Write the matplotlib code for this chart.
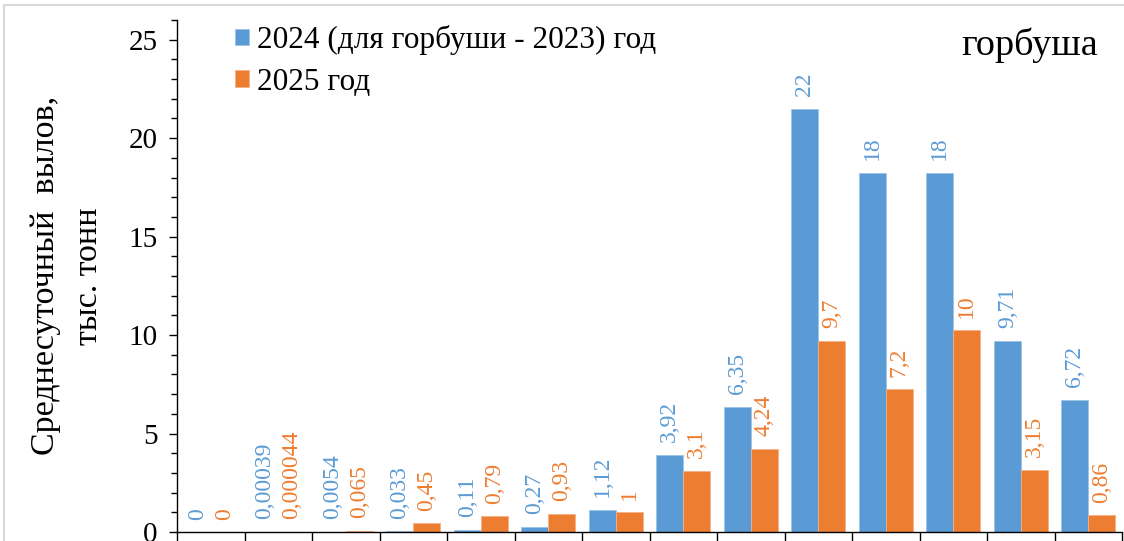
import matplotlib
matplotlib.use("Agg")
import matplotlib.pyplot as plt
import numpy as np
from matplotlib.patches import Rectangle
from matplotlib.ticker import MultipleLocator

plt.rcParams['font.family'] = ['Liberation Serif', 'DejaVu Serif']

# data (14 periods, no category labels visible)
vals_2024 = [0, 0.00039, 0.0054, 0.033, 0.11, 0.27, 1.12, 3.92, 6.35, 21.5, 18.24, 18.24, 9.71, 6.72]
vals_2025 = [0, 0.000044, 0.065, 0.45, 0.79, 0.93, 1.0, 3.1, 4.24, 9.7, 7.25, 10.25, 3.15, 0.86]
labels_2024 = ['0', '0,00039', '0,0054', '0,033', '0,11', '0,27', '1,12', '3,92', '6,35', '22', '18', '18', '9,71', '6,72']
labels_2025 = ['0', '0,000044', '0,065', '0,45', '0,79', '0,93', '1', '3,1', '4,24', '9,7', '7,2', '10', '3,15', '0,86']
series_names = ['2024 (для горбуши - 2023) год', '2025 год']

blue = '#5B9BD5'
orange = '#ED7D31'

fig = plt.figure(figsize=(11.24, 5.41), dpi=100)
# light chart-area border (cut off at right and bottom)
fig.patches.append(Rectangle((4 / 1124, -0.1), 1.2, 1 - 5 / 541 + 0.1,
                             transform=fig.transFigure, fill=False,
                             edgecolor='#d9d9d9', linewidth=1.5))

ax = fig.add_axes([177 / 1124, 9 / 541, 945 / 1124, 512 / 541])

n = len(vals_2024)
x = np.arange(n)
w = 0.4
b1 = ax.bar(x - w / 2, vals_2024, w, color=blue, edgecolor='#9cc3e8', linewidth=0.6, label=series_names[0])
b2 = ax.bar(x + w / 2, vals_2025, w, color=orange, edgecolor='#f4b183', linewidth=0.6, label=series_names[1])

for bars, labs, col in [(b1, labels_2024, blue), (b2, labels_2025, orange)]:
    for rect, lab in zip(bars, labs):
        ax.annotate(lab, (rect.get_x() + rect.get_width() / 2, rect.get_height()),
                    xytext=(0, 9), textcoords='offset points',
                    ha='center', va='bottom', rotation=90, color=col, fontsize=17)

ax.set_xlim(-0.5, n - 0.5)
ax.set_ylim(0, 26)
ax.set_xticks(np.arange(n + 1) - 0.5)
ax.set_xticklabels([])
ax.tick_params(axis='x', direction='out', length=7, width=1)
ax.yaxis.set_major_locator(MultipleLocator(5))
ax.yaxis.set_minor_locator(MultipleLocator(1))
ax.tick_params(axis='y', which='major', length=6, width=1, labelsize=21, pad=8)
ax.tick_params(axis='y', which='minor', length=4, width=1)

for s in ['top', 'right']:
    ax.spines[s].set_visible(False)
for s in ['left', 'bottom']:
    ax.spines[s].set_linewidth(1.0)

fig.text(46 / 1124, 0.49, 'Среднесуточный  вылов,', rotation=90, ha='center', va='center', fontsize=24.5)
fig.text(89 / 1124, 0.49, 'тыс. тонн', rotation=90, ha='center', va='center', fontsize=24.5)

fig.text(1098 / 1124, 1 - 45 / 541, 'горбуша', ha='right', va='center', fontsize=27.5)

leg = ax.legend(loc='upper left', bbox_to_anchor=(58 / 945, 0.99), frameon=False,
                fontsize=22.5, handlelength=0.45, handleheight=0.45, handletextpad=0.25,
                labelspacing=0.4, borderaxespad=0, borderpad=0)

fig.savefig('out.png', dpi=100)
